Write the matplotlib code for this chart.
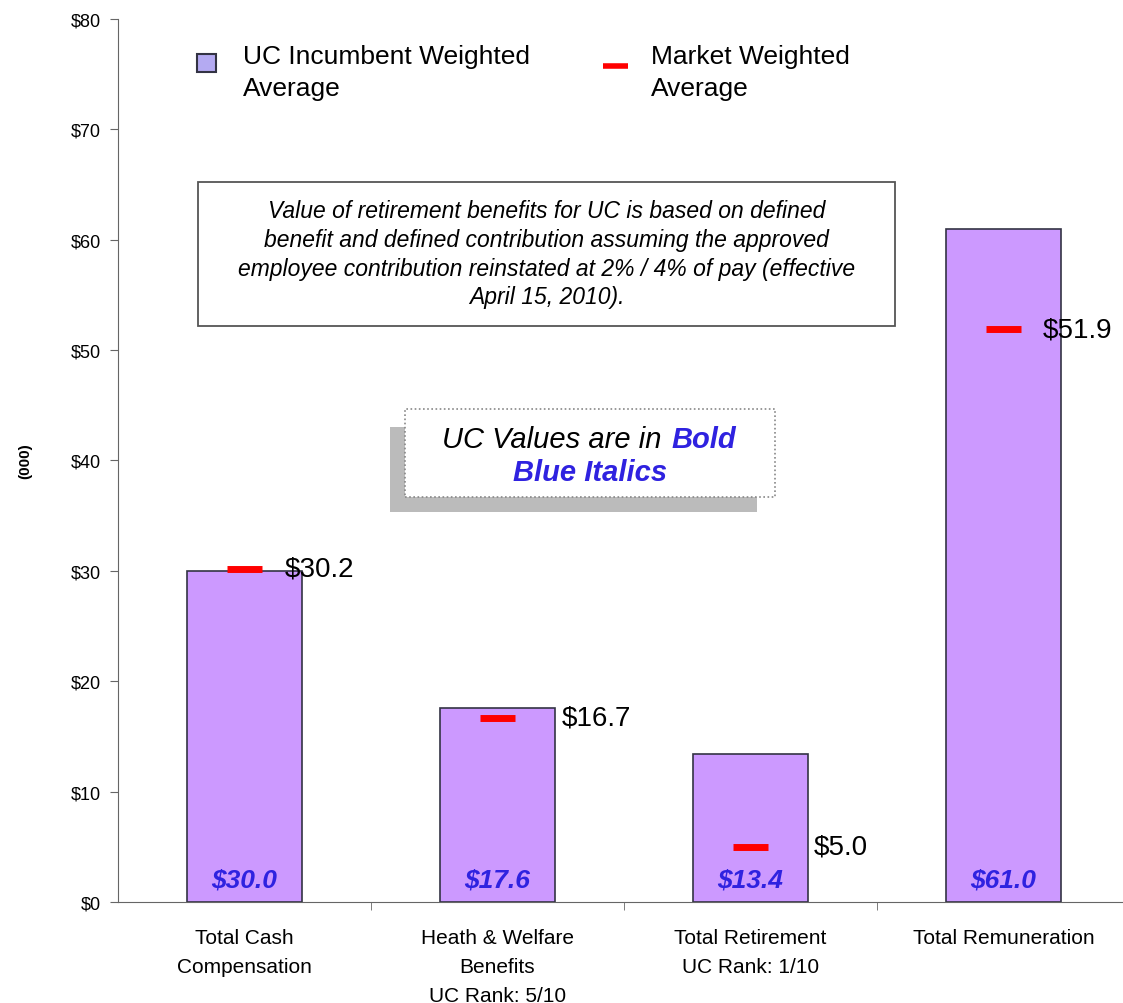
import numpy as np
import matplotlib
matplotlib.use("Agg")
from matplotlib import pyplot as plt
from matplotlib.patches import Rectangle

plt.rcParams['font.family'] = ['Liberation Sans', 'DejaVu Sans']

categories = ["Total Cash\nCompensation", "Heath & Welfare\nBenefits\nUC Rank: 5/10",
              "Total Retirement\nUC Rank: 1/10", "Total Remuneration"]
uc_values = [30.0, 17.6, 13.4, 61.0]
market_values = [30.2, 16.7, 5.0, 51.9]

# horizontal offset of the market value labels (in category units)
label_dx = [0.158, 0.253, 0.249, 0.154]
blue = "#2f22e0"

fig = plt.figure(figsize=(11.23, 10.04), dpi=100)
ax = fig.add_axes([0.105, 0.1006, 0.895, 0.8795])

x = np.arange(len(categories))
ax.bar(x, uc_values, width=0.455, color="#cc99ff", edgecolor="#333344", linewidth=1.2, zorder=2)

for i, (v, m) in enumerate(zip(uc_values, market_values)):
    ax.plot([x[i] - 0.07, x[i] + 0.07], [m, m], color="#ff0000", lw=5,
            solid_capstyle="butt", zorder=3)
    ax.text(x[i] + label_dx[i], m, f"${m:.1f}", fontsize=20, va="center", ha="left", zorder=4)
    ax.text(x[i], 2.08, f"${v:.1f}", fontsize=19, fontweight="bold", fontstyle="italic",
            color=blue, ha="center", va="center", zorder=4)

ax.set_xlim(-0.5, 3.472)
ax.set_ylim(0, 80)
ax.set_yticks(np.arange(0, 81, 10))
ax.set_yticklabels([f"${v}" for v in range(0, 81, 10)], fontsize=13)
ax.set_xticks(x)
ax.set_xticklabels(categories, fontsize=15, linespacing=1.65)
ax.tick_params(axis="x", length=0, pad=19)
ax.set_xticks([0.5, 1.5, 2.5], minor=True)
ax.tick_params(axis="x", which="minor", length=6, direction="out", color="#666666")
ax.tick_params(axis="y", length=6, direction="out", color="#666666", pad=6)
for s in ["top", "right"]:
    ax.spines[s].set_visible(False)
ax.spines["left"].set_color("#666666")
ax.spines["bottom"].set_color("#666666")
ax.set_ylabel("(000)", fontsize=11, fontweight="bold", labelpad=28)

# legend drawn by hand
ax.add_patch(Rectangle((0.0786, 0.940), 0.0189, 0.0204, transform=ax.transAxes,
                       facecolor="#b4aaf2", edgecolor="#333344", lw=1.5, clip_on=False))
ax.text(0.1244, 0.940, "UC Incumbent Weighted\nAverage", transform=ax.transAxes,
        fontsize=19, va="center", ha="left", linespacing=1.38)
ax.plot([0.4826, 0.5075], [0.9468, 0.9468], transform=ax.transAxes, color="#ff0000", lw=4,
        solid_capstyle="butt", clip_on=False)
ax.text(0.530, 0.940, "Market Weighted\nAverage", transform=ax.transAxes,
        fontsize=19, va="center", ha="left", linespacing=1.38)

# note box
note = ("Value of retirement benefits for UC is based on defined\n"
        "benefit and defined contribution assuming the approved\n"
        "employee contribution reinstated at 2% / 4% of pay (effective\n"
        "April 15, 2010).")
ax.add_patch(Rectangle((0.0796, 0.652), 0.6935, 0.163, transform=ax.transAxes,
                       facecolor="white", edgecolor="#555555", lw=1.3, zorder=5))
ax.text(0.4264, 0.734, note, transform=ax.transAxes, ha="center", va="center",
        fontsize=16.5, fontstyle="italic", linespacing=1.31, zorder=6)

# shadowed box
ax.add_patch(Rectangle((0.2706, 0.4417), 0.365, 0.0963, transform=ax.transAxes,
                       facecolor="#bbbbbb", edgecolor="none", zorder=5))
ax.add_patch(Rectangle((0.2856, 0.4587), 0.368, 0.0997, transform=ax.transAxes,
                       facecolor="white", edgecolor="#888888", lw=1.2, ls=(0, (1, 1.5)), zorder=6))
ax.text(0.5413, 0.5243, "UC Values are in", transform=ax.transAxes, fontsize=21,
        fontstyle="italic", ha="right", va="center", zorder=7)
ax.text(0.5512, 0.5243, "Bold", transform=ax.transAxes, fontsize=21, fontstyle="italic",
        fontweight="bold", color=blue, ha="left", va="center", zorder=7)
ax.text(0.4697, 0.487, "Blue Italics", transform=ax.transAxes, fontsize=21, fontstyle="italic",
        fontweight="bold", color=blue, ha="center", va="center", zorder=7)

fig.savefig("out.png", dpi=100)
